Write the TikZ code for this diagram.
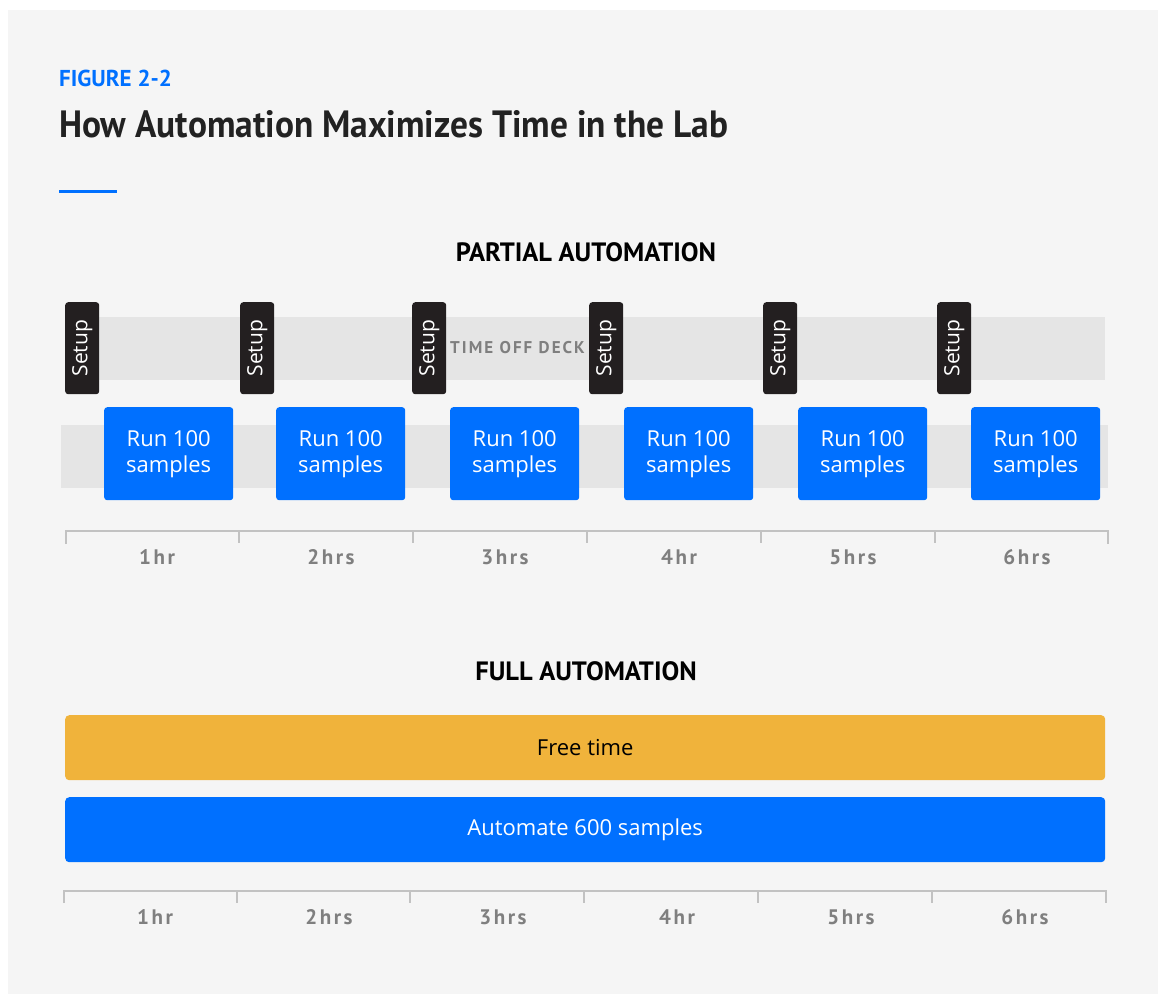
\documentclass[tikz,border=0pt]{standalone}
\usepackage{fontspec}
\setmainfont{Open Sans}
\newfontfamily\headfont{PT Sans}
\usetikzlibrary{positioning}

\definecolor{panel}{HTML}{F5F5F5}
\definecolor{band}{HTML}{E5E5E5}
\definecolor{brandblue}{HTML}{0070FF}
\definecolor{setupblack}{HTML}{231F20}
\definecolor{freeyellow}{HTML}{F0B33B}
\definecolor{titleink}{HTML}{222222}
\definecolor{axisgray}{HTML}{C2C2C2}
\definecolor{labelgray}{HTML}{7F7F7F}

\tikzset{
  runbox/.style={fill=brandblue, rounded corners=3pt, minimum width=129pt, minimum height=93pt,
    anchor=north west, inner sep=0pt, text=white, align=center, font=\fontsize{22}{26}\selectfont},
  setupbox/.style={fill=setupblack, rounded corners=3pt, minimum width=34pt, minimum height=92pt,
    anchor=north west, inner sep=0pt},
  setuptext/.style={text=white, rotate=90, font=\fontsize{21}{24}\selectfont, inner sep=0pt},
  bandbox/.style={fill=band, draw=none},
  widebar/.style={rounded corners=4pt, minimum width=1040pt, minimum height=65pt,
    anchor=north west, inner sep=0pt, font=\fontsize{22}{26}\selectfont},
  axisline/.style={draw=axisgray, line width=2pt},
  ticklabel/.style={text=labelgray, font=\headfont\bfseries\fontsize{21}{24}\selectfont\addfontfeature{LetterSpace=12}},
  heading/.style={text=black, font=\headfont\bfseries\fontsize{26.5}{31}\selectfont}
}

\begin{document}
\begin{tikzpicture}[x=1pt, y=-1pt]
  \useasboundingbox (0,0) rectangle (1158,994);
  \fill[white] (0,0) rectangle (1158,994);
  \fill[panel] (8,10) rectangle (1158,994);

  % title block
  \node[anchor=base west, inner sep=0pt, text=brandblue,
        font=\headfont\bfseries\fontsize{23}{28}\selectfont] (figno) at (59,86) {FIGURE 2-2};
  \node[anchor=base west, inner sep=0pt, text=titleink,
        font=\headfont\bfseries\fontsize{38}{44}\selectfont] (title) at (59,137)
        {\resizebox{669pt}{\height}{How Automation Maximizes Time in the Lab}};
  \fill[brandblue] (59,189.5) rectangle (117,192.5);

  % ---------------- partial automation ----------------
  \node[heading, anchor=base] (parthead) at (586,261) {PARTIAL AUTOMATION};

  \fill[bandbox] (66,317) rectangle (1105,380);
  \fill[bandbox] (61,425) rectangle (1108,488);

  \node[anchor=west, inner sep=0pt, text=labelgray,
        font=\headfont\bfseries\fontsize{17}{20}\selectfont\addfontfeature{LetterSpace=12}] (offdeck) at (450,348) {TIME OFF DECK};

  \foreach \sx [count=\i] in {65,240,412,589,763,937} {
    \node[setupbox] (setup\i) at (\sx,302) {};
    \node[setuptext] (setuplbl\i) at (setup\i.center) {Setup};
  }
  \foreach \rx [count=\i] in {104,276,450,624,798,971} {
    \node[runbox] (run\i) at (\rx,407) {Run 100\\samples};
  }

  % time axis
  \draw[axisline] (66,544) -- (66,531) -- (1108,531) -- (1108,544);
  \foreach \tx in {239,413,587,761,935} \draw[axisline] (\tx,531) -- (\tx,543);
  \foreach \lx/\lt [count=\i] in {157/1hr,331/2hrs,505/3hrs,679/4hr,853/5hrs,1027/6hrs}
    \node[ticklabel, anchor=base] (ptick\i) at (\lx,564) {\lt};

  % ---------------- full automation ----------------
  \node[heading, anchor=base] (fullhead) at (586,680) {FULL AUTOMATION};

  \node[widebar, fill=freeyellow, text=black] (free) at (65,715) {Free time};
  \node[widebar, fill=brandblue, text=white] (auto) at (65,797) {Automate 600 samples};

  \draw[axisline] (64,903) -- (64,891) -- (1106,891) -- (1106,903);
  \foreach \tx in {237,410,584,758,932} \draw[axisline] (\tx,891) -- (\tx,903);
  \foreach \lx/\lt [count=\i] in {155/1hr,329/2hrs,503/3hrs,677/4hr,851/5hrs,1025/6hrs}
    \node[ticklabel, anchor=base] (ftick\i) at (\lx,924) {\lt};
\end{tikzpicture}
\end{document}
